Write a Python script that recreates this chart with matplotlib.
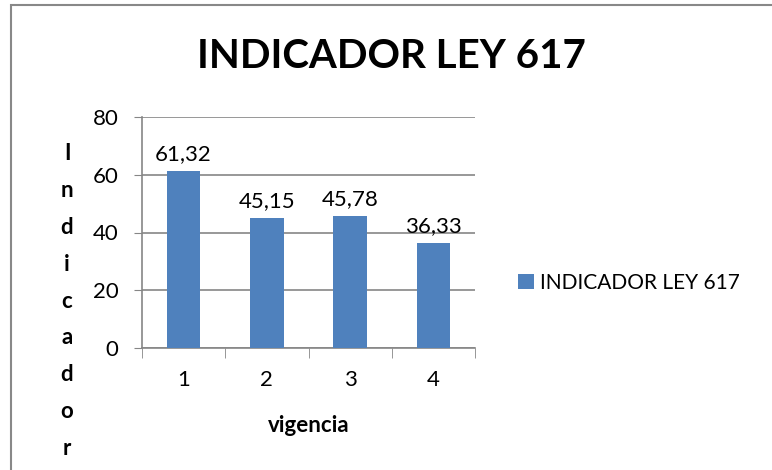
import matplotlib
matplotlib.use("Agg")
import matplotlib.pyplot as plt
from matplotlib.patches import Rectangle

# data
vigencia = [1, 2, 3, 4]
indicador = [61.32, 45.15, 45.78, 36.33]
labels = ["61,32", "45,15", "45,78", "36,33"]

plt.rcParams['font.family'] = ['Lato', 'DejaVu Sans']

W, H = 772, 470
fig = plt.figure(figsize=(W / 100, H / 100), dpi=100)

# axes box in pixels: x 142..475, y 117..348
ax = fig.add_axes([142 / W, 1 - 348 / H, (475 - 142) / W, (348 - 117) / H])

blue = '#4F81BD'
grid = '#868686'

ax.bar(vigencia, indicador, width=0.4, color=blue, label='INDICADOR LEY 617', zorder=3)
for x, y, t in zip(vigencia, indicador, labels):
    ax.annotate(t, (x, y), xytext=(0, 5), textcoords='offset points',
                ha='center', va='bottom', fontsize=16)

ax.set_xlim(0.5, 4.5)
ax.set_ylim(0, 80)
ax.set_yticks([0, 20, 40, 60, 80])
ax.set_xticks(vigencia)
ax.set_xticks([0.5, 1.5, 2.5, 3.5, 4.5], minor=True)
ax.tick_params(axis='x', which='major', length=0, labelsize=16, pad=16)
ax.tick_params(axis='x', which='minor', length=7, color=grid, direction='out')
ax.tick_params(axis='y', length=6, color=grid, labelsize=16, pad=11)
ax.yaxis.grid(True, color=grid, linewidth=1.2, zorder=0)

for s in ['top', 'right']:
    ax.spines[s].set_visible(False)
for s in ['left', 'bottom']:
    ax.spines[s].set_color(grid)
    ax.spines[s].set_linewidth(1.2)

ax.set_xlabel('vigencia', fontsize=16, fontweight='bold', labelpad=18)

fig.text(391 / W, 1 - 57 / H, 'INDICADOR LEY 617', ha='center', va='center',
         fontsize=29, fontweight='bold')

# stacked vertical y label
fig.text(67 / W, 1 - 301 / H, '\n'.join('Indicador'), ha='center', va='center',
         fontsize=16, fontweight='bold', linespacing=1.94)

ax.legend(loc='center left', bbox_to_anchor=(518 / W, 1 - 283 / H),
          bbox_transform=fig.transFigure, frameon=False, fontsize=15,
          borderpad=0, borderaxespad=0,
          handlelength=0.75, handleheight=0.75, handletextpad=0.3)

# chart border (top and left visible)
fig.add_artist(Rectangle((11 / W, -0.05), 1.1, 1 - 5 / H + 0.05, transform=fig.transFigure,
                         fill=False, edgecolor='#888888', linewidth=1.5))

fig.savefig('out.png', dpi=100)
